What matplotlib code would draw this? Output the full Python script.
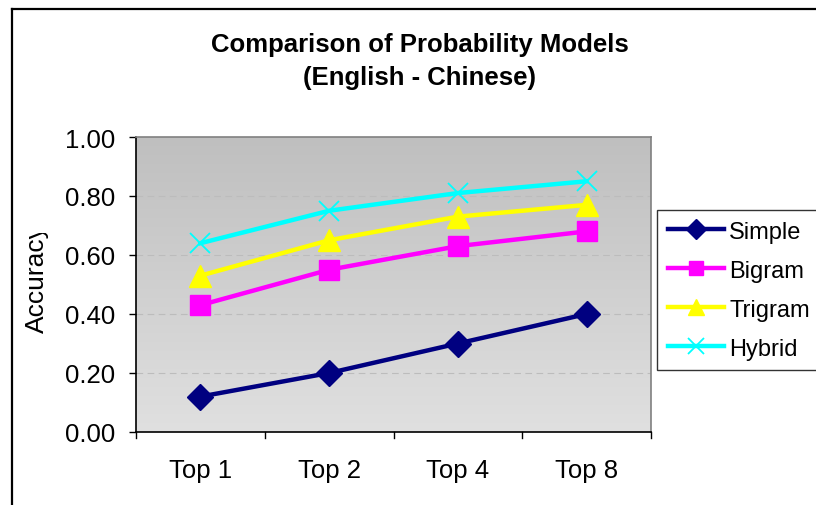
import numpy as np
import matplotlib
matplotlib.use("Agg")
import matplotlib.pyplot as plt
from matplotlib.lines import Line2D
from matplotlib.patches import Rectangle

plt.rcParams['font.family'] = ['Liberation Sans', 'DejaVu Sans']

categories = ["Top 1", "Top 2", "Top 4", "Top 8"]
simple = [0.12, 0.20, 0.30, 0.40]
bigram = [0.43, 0.55, 0.63, 0.68]
trigram = [0.53, 0.65, 0.73, 0.77]
hybrid = [0.64, 0.75, 0.81, 0.85]
y_ticks = [0.0, 0.2, 0.4, 0.6, 0.8, 1.0]

W, H = 816, 506
fig = plt.figure(figsize=(W / 100, H / 100), dpi=100)
fig.patch.set_facecolor("white")

# outer chart frame (left and top edges visible)
fig.add_artist(Line2D([12 / W, 12 / W], [0, 1 - 10 / H], transform=fig.transFigure,
                      color="black", lw=1.6))
fig.add_artist(Line2D([12 / W, 1], [1 - 10 / H, 1 - 10 / H], transform=fig.transFigure,
                      color="black", lw=1.6))

left, right, top, bottom = 136, 651, 138, 433
ax = fig.add_axes([left / W, 1 - bottom / H, (right - left) / W, (bottom - top) / H])

# vertical gray gradient background
grad = np.linspace(0, 1, 256).reshape(-1, 1)
ax.imshow(grad, extent=[-0.5, 3.5, 0, 1], aspect="auto", origin="lower",
          cmap=matplotlib.colors.LinearSegmentedColormap.from_list(
              "bg", ["#e0e0e0", "#bfbfbf"]), zorder=0)

x = np.arange(len(categories))
ax.set_xlim(-0.5, 3.5)
ax.set_ylim(0, 1)

for v in y_ticks[1:-1]:
    ax.axhline(v, color="#bcbcbc", lw=0.8, ls=(0, (6, 4)), zorder=1)

ax.plot(x, simple, color="#000080", lw=3.2, marker="D", ms=13, label="Simple", zorder=3)
ax.plot(x, bigram, color="#ff00ff", lw=3.2, marker="s", ms=14, label="Bigram", zorder=3)
ax.plot(x, trigram, color="#ffff00", lw=3.2, marker="^", ms=16, label="Trigram", zorder=3)
ax.plot(x, hybrid, color="#00ffff", lw=3.2, marker="x", ms=15, mew=1.3, label="Hybrid", zorder=3)

ax.set_yticks(y_ticks)
ax.set_yticklabels([f"{v:.2f}" for v in y_ticks], fontsize=18.5)
ax.set_xticks(x)
ax.set_xticklabels(categories, fontsize=18.5)
ax.tick_params(axis="x", length=0, pad=19)
ax.tick_params(axis="y", length=5, width=1, pad=10, direction="out")
# category boundary ticks on x axis
for b in np.arange(-0.5, 4.0, 1.0):
    ax.plot([b, b], [0, -0.022], color="black", lw=1, clip_on=False, zorder=4)

for s in ["left", "bottom"]:
    ax.spines[s].set_color("black")
    ax.spines[s].set_linewidth(1.2)
for s in ["top", "right"]:
    ax.spines[s].set_color("#808080")
    ax.spines[s].set_linewidth(1.2)

fig.text(420 / W, 1 - 45 / H, "Comparison of Probability Models", ha="center", va="center",
         fontsize=18.5, fontweight="bold")
fig.text(420 / W, 1 - 78 / H, "(English - Chinese)", ha="center", va="center",
         fontsize=18.5, fontweight="bold")

ylab = fig.text(37 / W, 1 - 333 / H, "Accuracy", rotation=90, ha="center", va="bottom",
                fontsize=19)
clip = Rectangle((0, 0), 1, 1 - 234 / H, transform=fig.transFigure)
ylab.set_clip_path(clip)

leg = ax.legend(loc="upper left", bbox_to_anchor=(657 / W, 1 - 211 / H),
                bbox_transform=fig.transFigure, fontsize=17, frameon=True,
                fancybox=False, edgecolor="black", handlelength=2.4,
                borderpad=0.45, labelspacing=0.72, handletextpad=0.2,
                borderaxespad=0)
leg.get_frame().set_linewidth(1.0)
for h in leg.legend_handles:
    h.set_markersize(h.get_markersize() * 0.75)

fig.savefig("out.png", dpi=100)
